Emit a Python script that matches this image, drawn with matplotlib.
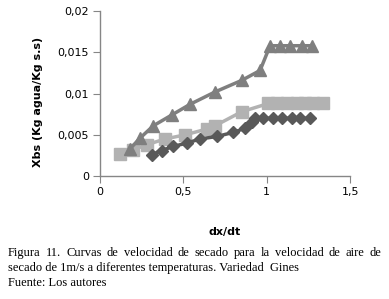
import matplotlib.pyplot as plt
from matplotlib.ticker import FuncFormatter

# triangulos (serie superior)
x_tri = [0.18, 0.24, 0.32, 0.43, 0.54, 0.69, 0.85, 0.96, 1.02, 1.08, 1.14, 1.21, 1.27]
y_tri = [0.0033, 0.0046, 0.0061, 0.0074, 0.0087, 0.0102, 0.0116, 0.0128, 0.0158, 0.0158, 0.0158, 0.0158, 0.0158]

# cuadrados (serie media)
x_sq = [0.12, 0.20, 0.28, 0.39, 0.51, 0.64, 0.69, 0.85, 1.01, 1.06, 1.12, 1.18, 1.23, 1.28, 1.34]
y_sq = [0.0027, 0.0032, 0.0038, 0.0045, 0.0050, 0.0057, 0.0061, 0.0078, 0.0088, 0.0088, 0.0088, 0.0088, 0.0088, 0.0088, 0.0088]

# rombos (serie inferior)
x_dia = [0.31, 0.37, 0.44, 0.52, 0.60, 0.70, 0.80, 0.87, 0.91, 0.93, 0.98, 1.04, 1.09, 1.15, 1.20, 1.26]
y_dia = [0.0026, 0.0031, 0.0036, 0.0040, 0.0045, 0.0048, 0.0053, 0.0058, 0.0065, 0.0070, 0.0070, 0.0070, 0.0070, 0.0070, 0.0070, 0.0070]

x_ticks = [0, 0.5, 1, 1.5]
y_ticks = [0, 0.005, 0.01, 0.015, 0.02]

linea1 = 'Figura 11. Curvas de velocidad de secado para la velocidad de aire de'
linea2 = 'secado de 1m/s a diferentes temperaturas. Variedad  Gines'
linea3 = 'Fuente: Los autores'

fig = plt.figure(figsize=(3.89, 2.99), dpi=100)
ax = fig.add_axes([0.257, 0.411, 0.643, 0.552])

ax.plot(x_tri, y_tri, color='#7f7f7f', lw=2.5, marker='^', ms=8, zorder=3)
ax.plot(x_sq, y_sq, color='#b2b2b2', lw=2.5, marker='s', ms=8, zorder=2)
ax.plot(x_dia, y_dia, color='#595959', lw=2.5, marker='D', ms=6, zorder=4)

ax.set_xlim(0, 1.5)
ax.set_ylim(0, 0.02)
ax.set_xticks(x_ticks)
ax.set_yticks(y_ticks)

coma = FuncFormatter(lambda v, p: ('%g' % v).replace('.', ','))
ax.xaxis.set_major_formatter(coma)
ax.yaxis.set_major_formatter(coma)

for s in ['top', 'right']:
    ax.spines[s].set_visible(False)
for s in ['left', 'bottom']:
    ax.spines[s].set_color('#868686')
    ax.spines[s].set_linewidth(1)
ax.tick_params(direction='out', length=5, color='#868686', labelsize=8, pad=3)

fig.text(0.098, 0.66, 'Xbs (Kg agua/Kg s.s)', rotation=90, ha='center', va='center',
         fontsize=8, fontweight='bold')
fig.text(0.578, 0.224, 'dx/dt', ha='center', va='center', fontsize=8, fontweight='bold')

cap = dict(family='Liberation Serif', fontsize=9, va='center')

# primera linea justificada entre x0 y x1
x0, x1 = 8 / 389, 381 / 389
palabras = linea1.split()
r = fig.canvas.get_renderer()
objs = [fig.text(0, 0.154, w, ha='left', **cap) for w in palabras]
anchos = [t.get_window_extent(r).width / fig.bbox.width for t in objs]
hueco = (x1 - x0 - sum(anchos)) / (len(palabras) - 1)
pos = x0
for t, w in zip(objs, anchos):
    t.set_x(pos)
    pos += w + hueco

fig.text(x0, 0.104, linea2, ha='left', **cap)
fig.text(x0, 0.054, linea3, ha='left', **cap)

fig.savefig('out.png', dpi=100)
